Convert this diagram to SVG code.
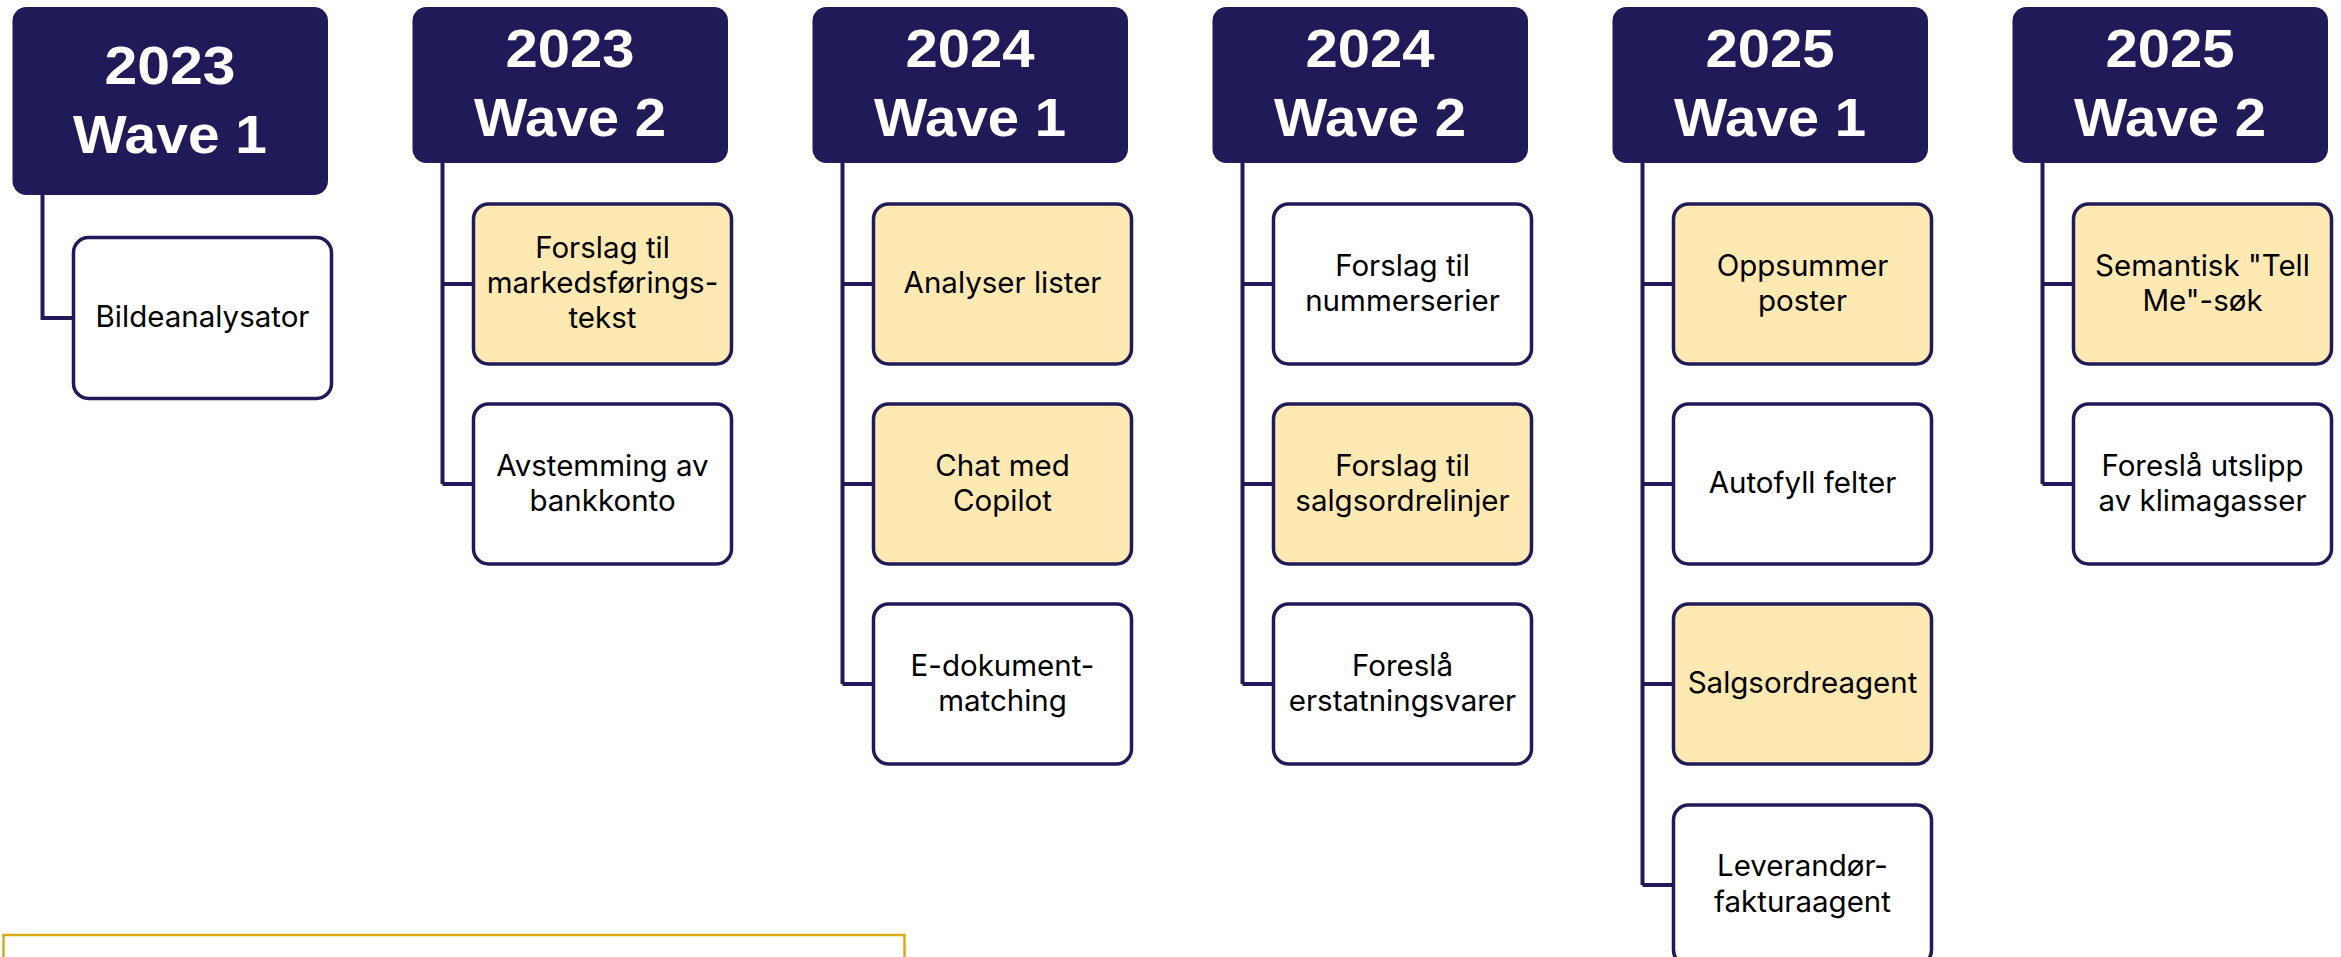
<svg xmlns="http://www.w3.org/2000/svg" width="2341" height="957" viewBox="0 0 2341 957">
<style>
.hdr{fill:#211A58}
.htx{fill:#FFFFFF;font-family:"Liberation Sans",Arial,sans-serif;font-weight:bold;font-size:54px;text-anchor:middle}
.box{stroke:#211A58;stroke-width:3.5}
.w{fill:#FFFFFF}
.y{fill:#FEE9B2}
.btx{fill:#000000;font-family:Inter,"Liberation Sans",Arial,sans-serif;font-size:29.5px;text-anchor:middle}
.con{fill:none;stroke:#211A58;stroke-width:4}
</style>
<rect width="2341" height="957" fill="#FFFFFF"/>
<g id="connectors">
<path class="con" d="M42.5,195 V318 H73.5"/>
<path class="con" d="M442.5,163 V484 M442.5,284 H473.5 M442.5,484 H473.5"/>
<path class="con" d="M842.5,163 V684 M842.5,284 H873.5 M842.5,484 H873.5 M842.5,684 H873.5"/>
<path class="con" d="M1242.5,163 V684 M1242.5,284 H1273.5 M1242.5,484 H1273.5 M1242.5,684 H1273.5"/>
<path class="con" d="M1642.5,163 V885 M1642.5,284 H1673.5 M1642.5,484 H1673.5 M1642.5,684 H1673.5 M1642.5,885 H1673.5"/>
<path class="con" d="M2042.5,163 V484 M2042.5,284 H2073.5 M2042.5,484 H2073.5"/>
</g>
<g id="h-2023-w1"><rect class="hdr" x="12.5" y="7" width="315.5" height="188" rx="14"/><text class="htx" x="170" y="83.5" textLength="131" lengthAdjust="spacingAndGlyphs">2023</text><text class="htx" x="170" y="153" textLength="194" lengthAdjust="spacingAndGlyphs">Wave 1</text></g>
<g id="h-2023-w2"><rect class="hdr" x="412.5" y="7" width="315.5" height="156" rx="14"/><text class="htx" x="570" y="67" textLength="129" lengthAdjust="spacingAndGlyphs">2023</text><text class="htx" x="570" y="135.5" textLength="192" lengthAdjust="spacingAndGlyphs">Wave 2</text></g>
<g id="h-2024-w1"><rect class="hdr" x="812.5" y="7" width="315.5" height="156" rx="14"/><text class="htx" x="970" y="67" textLength="129" lengthAdjust="spacingAndGlyphs">2024</text><text class="htx" x="970" y="135.5" textLength="192" lengthAdjust="spacingAndGlyphs">Wave 1</text></g>
<g id="h-2024-w2"><rect class="hdr" x="1212.5" y="7" width="315.5" height="156" rx="14"/><text class="htx" x="1370" y="67" textLength="129" lengthAdjust="spacingAndGlyphs">2024</text><text class="htx" x="1370" y="135.5" textLength="192" lengthAdjust="spacingAndGlyphs">Wave 2</text></g>
<g id="h-2025-w1"><rect class="hdr" x="1612.5" y="7" width="315.5" height="156" rx="14"/><text class="htx" x="1770" y="67" textLength="129" lengthAdjust="spacingAndGlyphs">2025</text><text class="htx" x="1770" y="135.5" textLength="192" lengthAdjust="spacingAndGlyphs">Wave 1</text></g>
<g id="h-2025-w2"><rect class="hdr" x="2012.5" y="7" width="315.5" height="156" rx="14"/><text class="htx" x="2170" y="67" textLength="129" lengthAdjust="spacingAndGlyphs">2025</text><text class="htx" x="2170" y="135.5" textLength="192" lengthAdjust="spacingAndGlyphs">Wave 2</text></g>

<g id="n-bildeanalysator"><rect class="box w" x="73.5" y="237.5" width="258" height="161" rx="15"/><text class="btx" x="202.5" y="327">Bildeanalysator</text></g>

<g id="n-markedsforing"><rect class="box y" x="473.5" y="204" width="258" height="160" rx="15"/><text class="btx" x="602.5" y="258">Forslag til</text><text class="btx" x="602.5" y="293">markedsførings-</text><text class="btx" x="602.5" y="328">tekst</text></g>
<g id="n-avstemming"><rect class="box w" x="473.5" y="404" width="258" height="160" rx="15"/><text class="btx" x="602.5" y="475.5">Avstemming av</text><text class="btx" x="602.5" y="510.5">bankkonto</text></g>

<g id="n-analyser"><rect class="box y" x="873.5" y="204" width="258" height="160" rx="15"/><text class="btx" x="1002.5" y="293">Analyser lister</text></g>
<g id="n-chat"><rect class="box y" x="873.5" y="404" width="258" height="160" rx="15"/><text class="btx" x="1002.5" y="475.5">Chat med</text><text class="btx" x="1002.5" y="510.5">Copilot</text></g>
<g id="n-edokument"><rect class="box w" x="873.5" y="604" width="258" height="160" rx="15"/><text class="btx" x="1002.5" y="675.5">E-dokument-</text><text class="btx" x="1002.5" y="710.5">matching</text></g>

<g id="n-nummerserier"><rect class="box w" x="1273.5" y="204" width="258" height="160" rx="15"/><text class="btx" x="1402.5" y="275.5">Forslag til</text><text class="btx" x="1402.5" y="310.5">nummerserier</text></g>
<g id="n-salgsordrelinjer"><rect class="box y" x="1273.5" y="404" width="258" height="160" rx="15"/><text class="btx" x="1402.5" y="475.5">Forslag til</text><text class="btx" x="1402.5" y="510.5">salgsordrelinjer</text></g>
<g id="n-erstatningsvarer"><rect class="box w" x="1273.5" y="604" width="258" height="160" rx="15"/><text class="btx" x="1402.5" y="675.5">Foreslå</text><text class="btx" x="1402.5" y="710.5">erstatningsvarer</text></g>

<g id="n-oppsummer"><rect class="box y" x="1673.5" y="204" width="258" height="160" rx="15"/><text class="btx" x="1802.5" y="275.5">Oppsummer</text><text class="btx" x="1802.5" y="310.5">poster</text></g>
<g id="n-autofyll"><rect class="box w" x="1673.5" y="404" width="258" height="160" rx="15"/><text class="btx" x="1802.5" y="493">Autofyll felter</text></g>
<g id="n-salgsordreagent"><rect class="box y" x="1673.5" y="604" width="258" height="160" rx="15"/><text class="btx" x="1802.5" y="693">Salgsordreagent</text></g>
<g id="n-leverandor"><rect class="box w" x="1673.5" y="805" width="258" height="160" rx="15"/><text class="btx" x="1802.5" y="876">Leverandør-</text><text class="btx" x="1802.5" y="912">fakturaagent</text></g>

<g id="n-semantisk"><rect class="box y" x="2073.5" y="204" width="258" height="160" rx="15"/><text class="btx" x="2202.5" y="275.5">Semantisk "Tell</text><text class="btx" x="2202.5" y="310.5">Me"-søk</text></g>
<g id="n-klimagasser"><rect class="box w" x="2073.5" y="404" width="258" height="160" rx="15"/><text class="btx" x="2202.5" y="475.5">Foreslå utslipp</text><text class="btx" x="2202.5" y="510.5">av klimagasser</text></g>

<rect id="legend-frame" x="3.5" y="935" width="901" height="40" fill="none" stroke="#D9AB15" stroke-width="2.5"/>
</svg>
